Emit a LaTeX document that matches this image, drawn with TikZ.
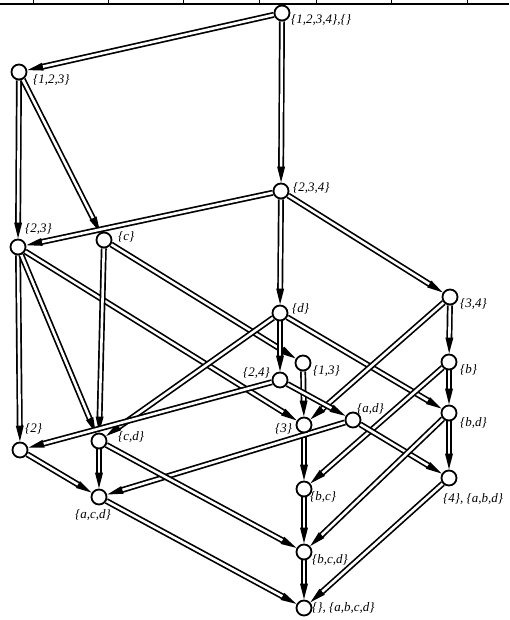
\documentclass[tikz,border=0pt]{standalone}
\usepackage{fontspec}
\setmainfont{Liberation Serif}
\usetikzlibrary{arrows.meta}
\pgfdeclarelayer{background}
\pgfsetlayers{background,main}
\tikzset{
  dot/.style={circle, draw, line width=1.8pt, fill=white, minimum size=15pt, inner sep=0pt},
  link/.style={draw, line width=1.7pt, double=white, double distance=2.6pt,
    -{Triangle[length=16pt,width=7.5pt]}},
  lab/.style={font=\fontsize{13}{13}\selectfont\itshape, inner sep=0pt, anchor=west},
  rule/.style={line width=2.6pt},
  tick/.style={line width=1pt}
}
\begin{document}
\begin{tikzpicture}[x=1pt,y=-1pt]
\useasboundingbox (0,0) rectangle (509,620);

% table border along the top
\draw[rule] (0,4) -- (509,4);
\foreach \x in {33,108,183,259,316,391,467}
  \draw[tick] (\x,0) -- (\x,4);

% lattice elements
\node[dot] (t)    at (282,13)  {};
\node[dot] (n123) at (19,72)   {};
\node[dot] (n234) at (281,191) {};
\node[dot] (n23)  at (18,247)  {};
\node[dot] (nc)   at (104,240) {};
\node[dot] (nd)   at (280,313) {};
\node[dot] (n34)  at (450,297) {};
\node[dot] (n13)  at (303,363) {};
\node[dot] (n24)  at (280,380) {};
\node[dot] (nb)   at (449,362) {};
\node[dot] (n3)   at (304,425) {};
\node[dot] (nad)  at (353,420) {};
\node[dot] (nbd)  at (449,413) {};
\node[dot] (n2)   at (20,450)  {};
\node[dot] (ncd)  at (99,441)  {};
\node[dot] (nacd) at (99,497)  {};
\node[dot] (nbc)  at (304,489) {};
\node[dot] (n4)   at (449,478) {};
\node[dot] (nbcd) at (304,552) {};
\node[dot] (nbot) at (304,608) {};

% labels
\node[lab] (lt)    at (291,20)  {\{1,2,3,4\},\{\}};
\node[lab] (l123)  at (33,80)   {\{1,2,3\}};
\node[lab] (l23)   at (25,229)  {\{2,3\}};
\node[lab] (lc)    at (118,237) {\{c\}};
\node[lab] (l234)  at (293,188) {\{2,3,4\}};
\node[lab] (ld)    at (292,309) {\{d\}};
\node[lab] (l34)   at (460,304) {\{3,4\}};
\node[lab] (l13)   at (313,371) {\{1,3\}};
\node[lab] (l24)   at (243,373) {\{2,4\}};
\node[lab] (lb)    at (460,370) {\{b\}};
\node[lab] (lad)   at (357,409) {\{a,d\}};
\node[lab] (l3)    at (275,429) {\{3\}};
\node[lab] (lbd)   at (460,423) {\{b,d\}};
\node[lab] (lbc)   at (310,497) {\{b,c\}};
\node[lab] (l4)    at (443,499) {\{4\}, \{a,b,d\}};
\node[lab] (lbcd)  at (312,560) {\{b,c,d\}};
\node[lab] (lbot)  at (312,608) {\{\}, \{a,b,c,d\}};
\node[lab] (l2)    at (25,429)  {\{2\}};
\node[lab] (lcd)   at (118,437) {\{c,d\}};
\node[lab] (lacd)  at (75,515)  {\{a,c,d\}};

% order relations
\begin{pgfonlayer}{background}
\foreach \a/\b in {t/n123, t/n234, n123/n23, n123/nc, n234/n23, n234/nd, n234/n34,
    n23/n2, n23/ncd, n23/n3, nc/ncd, nc/n13, nd/n24, nd/ncd, nd/nbd,
    n34/nb, n34/n3, n13/n3, n24/n2, n24/nad, nb/nbd, nb/nbc, n3/nbc,
    nad/nacd, nad/n4, nbd/n4, nbd/nbcd, n2/nacd, ncd/nacd, ncd/nbcd,
    nacd/nbot, nbc/nbcd, n4/nbot, nbcd/nbot}
  \draw[link] (\a) -- (\b);
\end{pgfonlayer}
\end{tikzpicture}
\end{document}
